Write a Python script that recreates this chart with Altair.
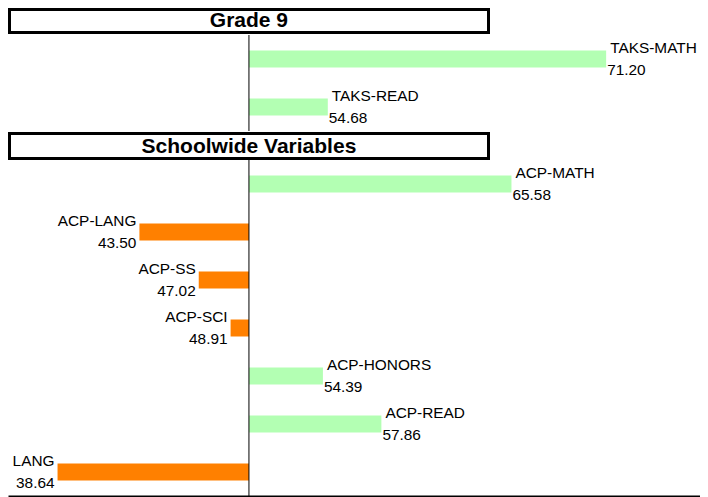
import altair as alt
import pandas as pd

# ---- data ----
section_titles = ["Grade 9", "Schoolwide Variables"]
grade9_labels = ["TAKS-MATH", "TAKS-READ"]
grade9_values = [71.20, 54.68]
school_labels = ["ACP-MATH", "ACP-LANG", "ACP-SS", "ACP-SCI", "ACP-HONORS", "ACP-READ", "ACP-FOREIGN LANG"]
school_values = [65.58, 43.50, 47.02, 48.91, 54.39, 57.86, 38.64]
baseline = 50

GREEN = "#b3ffb3"
ORANGE = "#ff8000"
FONT = "Liberation Sans"
W = 692
STEP = 48

xscale = alt.Scale(domain=[35.70, 76.77], nice=False, zero=False)


def header_panel(title, height, y1, y2, text_y):
    df = pd.DataFrame({"title": [title]})
    rect = alt.Chart(df).mark_rect(fill="white", stroke="black", strokeWidth=3).encode(
        x=alt.value(1.5), x2=alt.value(480.5), y=alt.value(y1), y2=alt.value(y2)
    )
    text = alt.Chart(df).mark_text(
        font=FONT, fontSize=21, fontWeight="bold", align="center", baseline="alphabetic", color="black"
    ).encode(
        x=alt.XDatum(baseline, scale=xscale, axis=None),
        y=alt.value(text_y),
        text="title:N",
    )
    return alt.layer(rect, text).properties(width=W, height=height)


def bar_panel(labels, values, axis):
    df = pd.DataFrame({"label": labels, "value": values})
    base = alt.Chart(df).transform_calculate(
        dir="datum.value >= %d ? 'up' : 'down'" % baseline
    )
    y = alt.Y("label:N", sort=labels, axis=None,
              scale=alt.Scale(paddingInner=0, paddingOuter=0))
    xenc = alt.X("value:Q", scale=xscale, axis=axis)
    bars = base.mark_bar(size=17).encode(
        x=xenc,
        x2=alt.X2Datum(baseline),
        y=y,
        color=alt.Color("dir:N", scale=alt.Scale(domain=["up", "down"], range=[GREEN, ORANGE]), legend=None),
    )
    rule = alt.Chart(pd.DataFrame({"b": [baseline]})).mark_rule(color="black", strokeWidth=1).encode(
        x=alt.X("b:Q", scale=xscale, axis=axis)
    )
    pos = base.transform_filter("datum.value >= %d" % baseline)
    neg = base.transform_filter("datum.value < %d" % baseline)
    tstyle = dict(font=FONT, fontSize=15.4, baseline="alphabetic", color="black", clip=True)
    name_pos = pos.mark_text(align="left", dx=4, dy=-6.5, **tstyle).encode(x=xenc, y=y, text="label:N")
    val_pos = pos.mark_text(align="left", dx=1, dy=16, **tstyle).encode(
        x=xenc, y=y, text=alt.Text("value:Q", format=".2f"))
    name_neg = neg.mark_text(align="right", dx=-3, dy=-6.5, **tstyle).encode(x=xenc, y=y, text="label:N")
    val_neg = neg.mark_text(align="right", dx=-3, dy=16, **tstyle).encode(
        x=xenc, y=y, text=alt.Text("value:Q", format=".2f"))
    return alt.layer(bars, rule, name_pos, val_pos, name_neg, val_neg).properties(
        width=W, height=STEP * len(labels))


bottom_axis = alt.Axis(domain=True, domainColor="black", domainWidth=2, ticks=False,
                       labels=False, grid=False, title=None)

h1 = header_panel(section_titles[0], 27, 1.5, 24.5, 19)
b1 = bar_panel(grade9_labels, grade9_values, None)
h2 = header_panel(section_titles[1], 29, 2.5, 27.5, 22)
b2 = bar_panel(school_labels, school_values, bottom_axis)

chart = alt.vconcat(h1, b1, h2, b2, spacing=0, bounds="flush").properties(
    padding=0
).configure_view(strokeWidth=0)

chart.save("out.html", embed_options={"renderer": "svg", "actions": False})
